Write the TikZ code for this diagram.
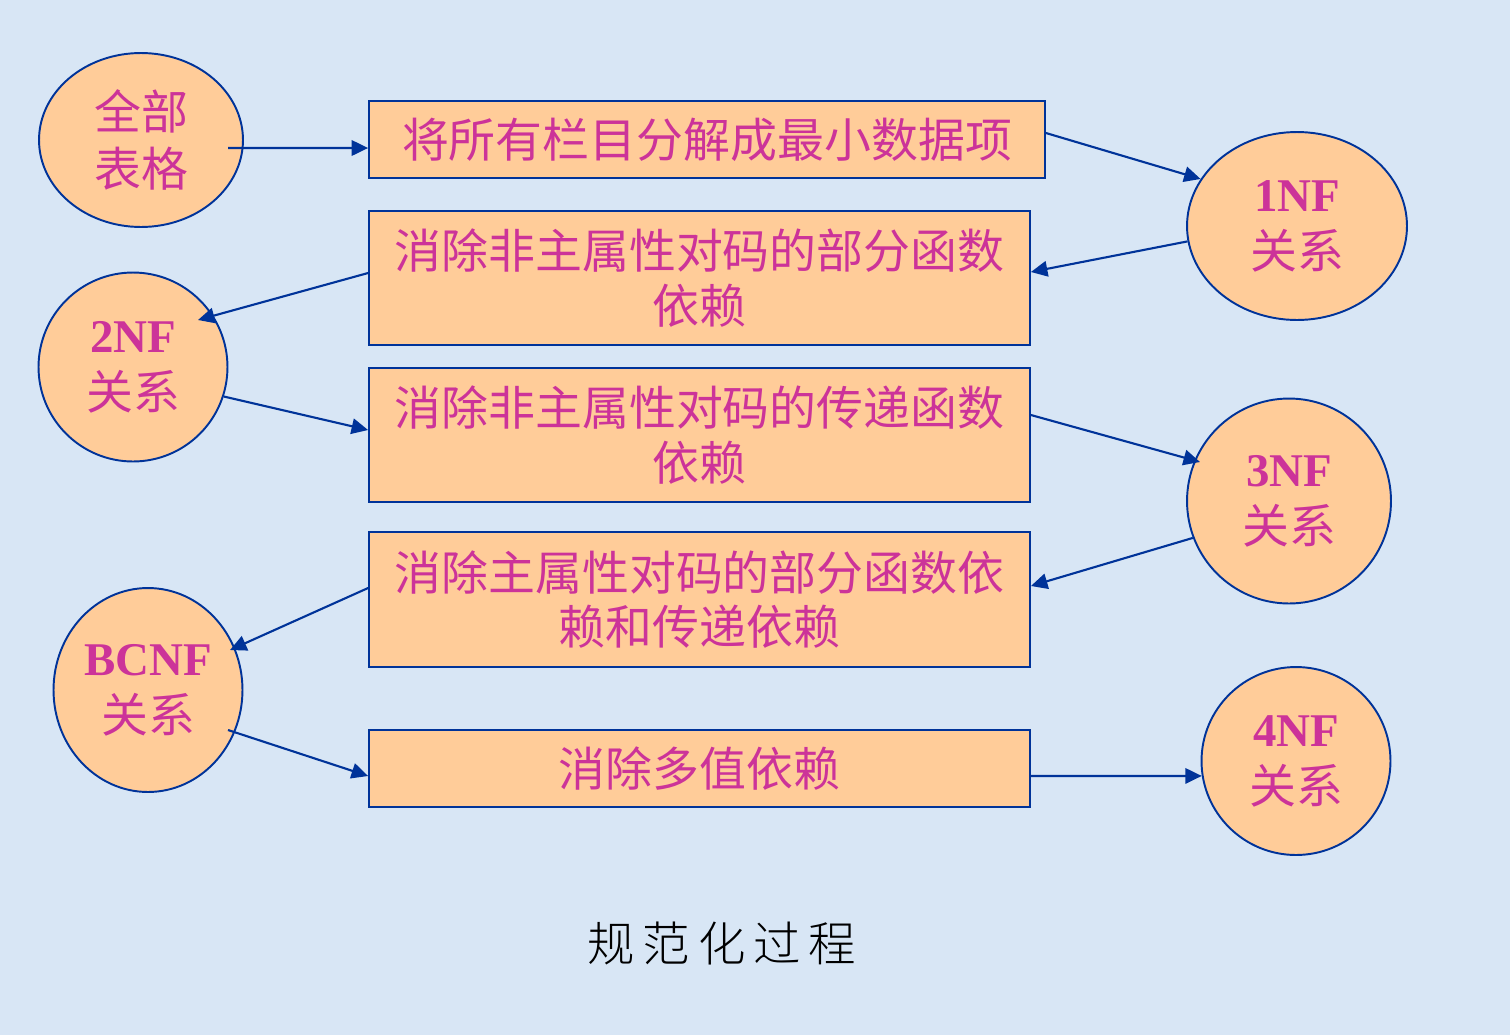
\documentclass[tikz,border=0pt]{standalone}
\usepackage{fontspec}
\setmainfont{Liberation Serif}
\newfontfamily\cjk{Noto Sans CJK SC}
\newfontfamily\cjkfin{Noto Sans CJK SC}[UprightFont={* Light}]
\usepackage{tikz}
\usetikzlibrary{arrows.meta,shapes.geometric,calc}
\definecolor{fond}{RGB}{216,230,245}
\definecolor{peche}{HTML}{FFCC99}
\definecolor{bleuC}{HTML}{003399}
\definecolor{texteC}{HTML}{CC3399}
\tikzset{
  etape/.style={rectangle, draw=bleuC, line width=1.1pt, fill=peche, text=texteC,
                align=center, inner sep=0pt, minimum width=#1,
                font=\cjk\fontsize{26.7}{31}\selectfont},
  relation/.style={ellipse, draw=bleuC, line width=1.1pt, fill=peche, text=texteC,
                   align=center, inner sep=0pt,
                   font=\fontsize{26.7}{32.5}\selectfont},
  arr/.style={-{Triangle[length=3.3mm,width=3.1mm]}, line width=1.2pt, draw=bleuC},
}

\begin{document}
\begin{tikzpicture}[x=0.02cm, y=-0.02cm]
    \fill[fond] (0,0) rectangle (1510,1035);
    \useasboundingbox (0,0) rectangle (1510,1035);

    % les formes normales
    \node[relation, minimum width=4.08cm, minimum height=3.48cm] (tab) at (141,140)
      {{\cjk 全部}\\{\cjk 表格}};
    \node[relation, minimum width=4.4cm, minimum height=3.76cm] (nf1) at (1297,226)
      {\textbf{1NF}\\{\cjk 关系}};
    \node[relation, minimum width=3.78cm, minimum height=3.78cm] (nf2) at (133,367)
      {\textbf{2NF}\\{\cjk 关系}};
    \node[relation, minimum width=4.08cm, minimum height=4.1cm] (nf3) at (1289,501)
      {\textbf{3NF}\\{\cjk 关系}};
    \node[relation, minimum width=3.78cm, minimum height=4.08cm] (bcnf) at (148,690)
      {\textbf{BCNF}\\{\cjk 关系}};
    \node[relation, minimum width=3.78cm, minimum height=3.76cm] (nf4) at (1296,761)
      {\textbf{4NF}\\{\cjk 关系}};

    % les etapes
    \node[etape=13.52cm, minimum height=1.54cm] (b1) at (707,139.5)
      {将所有栏目分解成最小数据项};
    \node[etape=13.22cm, minimum height=2.68cm] (b2) at (699.5,278)
      {消除非主属性对码的部分函数\\依赖};
    \node[etape=13.22cm, minimum height=2.68cm] (b3) at (699.5,435)
      {消除非主属性对码的传递函数\\依赖};
    \node[etape=13.22cm, minimum height=2.7cm] (b4) at (699.5,599.5)
      {消除主属性对码的部分函数依\\赖和传递依赖};
    \node[etape=13.22cm, minimum height=1.54cm] (b5) at (699.5,768.5)
      {消除多值依赖};

    % fleches
    \draw[arr] ($(tab.center)+(87,8)$) -- ($(b1.west)+(0,8.5)$);
    \draw[arr] ($(b1.east)+(0,-6.5)$) -- (nf1.154);
    \draw[arr] (nf1.188) -- ($(b2.east)+(0,-6)$);
    \draw[arr] ($(b2.west)+(0,-5)$) -- ($(nf2.center)+(65,-47)$);
    \draw[arr] (nf2.-18) -- ($(b3.west)+(0,-5)$);
    \draw[arr] ($(b3.east)+(0,-20)$) -- ($(nf3.center)+(-89,-39)$);
    \draw[arr] (nf3.201) -- ($(b4.east)+(0,-13.5)$);
    \draw[arr] ($(b4.west)+(0,-11.5)$) -- ($(bcnf.center)+(82,-40)$);
    \draw[arr] ($(bcnf.center)+(80,40)$) -- ($(b5.west)+(0,7.5)$);
    \draw[arr] ($(b5.east)+(0,7.5)$) -- (nf4.189);

    \node[font=\cjkfin\fontsize{27}{30}\selectfont] (titre) at (722,943)
      {规\,范\,化\,过\,程};
  \end{tikzpicture}
\end{document}
